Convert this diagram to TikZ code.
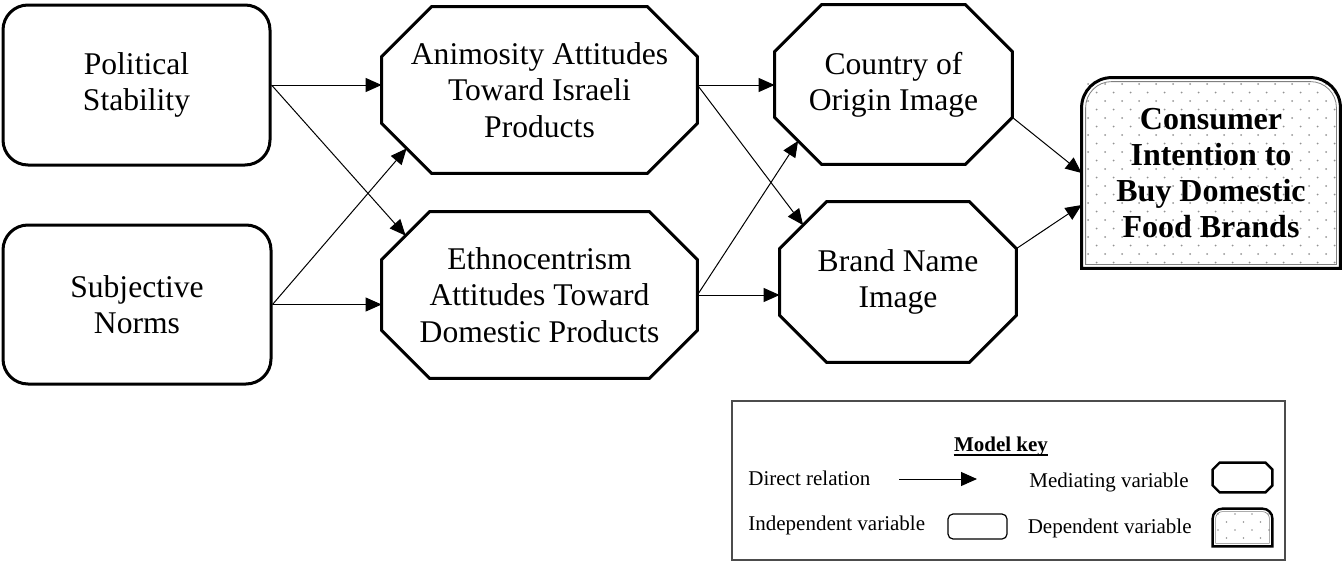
\documentclass[tikz,border=0pt]{standalone}
\usepackage{fontspec}
\setmainfont{Liberation Serif}
\usetikzlibrary{calc,arrows.meta}
\pgfdeclarelayer{background}
\pgfsetlayers{background,main}
\newcommand\mainfs{\fontsize{15.8pt}{18.2pt}\selectfont}
\newcommand\confs{\fontsize{16pt}{18pt}\selectfont\bfseries}
\newcommand\keyfs{\fontsize{10.5pt}{12.6pt}\selectfont}
% octagon drawn round a node: #1 node, #2 chamfer, #3 style
\newcommand\octo[3]{%
  \draw[#3] ($(#1.north west)+(#2,0pt)$) -- ($(#1.north east)+(-#2,0pt)$)
    -- ($(#1.north east)+(0pt,-#2)$) -- ($(#1.south east)+(0pt,#2)$)
    -- ($(#1.south east)+(-#2,0pt)$) -- ($(#1.south west)+(#2,0pt)$)
    -- ($(#1.south west)+(0pt,#2)$) -- ($(#1.north west)+(0pt,-#2)$) -- cycle;}
% box with rounded top corners: #1 node, #2 inset, #3 radius, #4 style
\newcommand\depshape[4]{%
  \draw[#4] ($(#1.south west)+(#2,#2)$) -- ($(#1.north west)+(#2,-#3)$)
    arc[start angle=180,end angle=90,radius=#3-#2]
    -- ($(#1.north east)+(-#3,-#2)$)
    arc[start angle=90,end angle=0,radius=#3-#2]
    -- ($(#1.south east)+(-#2,#2)$) -- cycle;}
\tikzset{
  arr/.style={line width=0.5pt,-{Triangle[length=8pt,width=7pt]}},
  indep/.style={draw,line width=1.5pt,rounded corners=12.5pt,align=center,inner sep=0pt,font=\mainfs},
  medtext/.style={align=center,inner sep=0pt,font=\mainfs},
  octline/.style={line width=1.5pt},
  keytext/.style={inner sep=0pt,font=\keyfs},
  dotstyle/.style={fill=gray!85},
}
\begin{document}
\begin{tikzpicture}[x=0.5pt,y=-0.5pt]
\useasboundingbox (0,0) rectangle (1342,562);

% independent variables
\node[indep,minimum width=133.5pt,minimum height=80pt] (pol) at (136.5,85) {Political\\Stability};
\node[indep,minimum width=134pt,minimum height=79.5pt] (sub) at (137,304.5) {Subjective\\Norms};

% mediating variables
\node[medtext,minimum width=157.5pt,minimum height=83pt] (ani) at (539.5,90) {Animosity Attitudes\\Toward Israeli\\Products};
\node[medtext,minimum width=157.5pt,minimum height=83pt] (eth) at (539.5,295) {Ethnocentrism\\Attitudes Toward\\Domestic Products};
\node[medtext,minimum width=118.5pt,minimum height=79.5pt] (coo) at (893.5,84.5) {Country of\\Origin Image};
\node[medtext,minimum width=118pt,minimum height=80pt] (bni) at (898,282) {Brand Name\\Image};
\octo{ani}{25pt}{octline}
\octo{eth}{24pt}{octline}
\octo{coo}{23.5pt}{octline}
\octo{bni}{23.5pt}{octline}

% dependent variable
\node[align=center,inner sep=0pt,font=\confs,minimum width=129pt,minimum height=95pt] (con) at (1211,173) {Consumer\\Intention to\\Buy Domestic\\Food Brands};
\begin{pgfonlayer}{background}
  \begin{scope}
    \clip (1084,80) rectangle (1338,266);
    \foreach \j in {0,...,22}{
      \pgfmathsetmacro\off{mod(\j,2)*8.5}
      \foreach \i in {0,...,15}{
        \fill[dotstyle] (1088+\off+\i*17,84+\j*8.5) circle (0.5pt);
      }
    }
  \end{scope}
\end{pgfonlayer}
\depshape{con}{0pt}{15pt}{line width=1.5pt}
\depshape{con}{2pt}{15pt}{line width=0.4pt,gray}

% connection points
\coordinate (aniL) at ($(ani.south west)+(12.5pt,12.5pt)$);
\coordinate (ethUL) at ($(eth.north west)+(12pt,-12pt)$);
\coordinate (cooLL) at ($(coo.south west)+(11.75pt,11.75pt)$);
\coordinate (bniUL) at ($(bni.north west)+(11.75pt,-11.75pt)$);
\coordinate (cooR) at ($(coo.south east)+(0pt,23.5pt)$);
\coordinate (bniR) at ($(bni.north east)+(0pt,-23.5pt)$);
\coordinate (conB) at ($(con.west)+(0pt,-16pt)$);

% connectors
\draw[arr] (pol.east) -- (pol.east -| ani.west);
\draw[arr] (pol.east) -- (ethUL);
\draw[arr] (sub.east) -- (aniL);
\draw[arr] (sub.east) -- (sub.east -| eth.west);
\draw[arr] (pol.east -| ani.east) -- (pol.east -| coo.west);
\draw[arr] (pol.east -| ani.east) -- (bniUL);
\draw[arr] (eth.east) -- (cooLL);
\draw[arr] (eth.east) -- (eth.east -| bni.west);
\draw[arr] (cooR) -- (con.west);
\draw[arr] (bniR) -- (conB);

% model key
\node[draw=gray!60!black,line width=1pt,minimum width=276.5pt,minimum height=79.5pt,inner sep=0pt] (key) at (1008.5,480.5) {};
\node[keytext,font=\keyfs\bfseries] (mk) at (1001,446) {Model key};
\draw[line width=1pt] ($(mk.base west)+(0pt,-1.8pt)$) -- ($(mk.base east)+(0pt,-1.8pt)$);
\node[keytext,anchor=west] (kdr) at (748,478) {Direct relation};
\coordinate (ka1) at (899,479);
\coordinate (ka2) at (977,479);
\draw[arr] (ka1) -- (ka2);
\node[keytext,anchor=east] (kmv) at (1189,482) {Mediating variable};
\node[inner sep=0pt,minimum width=29.5pt,minimum height=14.5pt] (km) at (1242.5,477.5) {};
\octo{km}{3.5pt}{line width=1.2pt}
\node[keytext,anchor=west] (kiv) at (748,525) {Independent variable};
\node[draw,line width=0.6pt,rounded corners=2.5pt,inner sep=0pt,minimum width=29.5pt,minimum height=12.5pt] (ki) at (977.5,526.5) {};
\node[keytext,anchor=east] (kdv) at (1192,528) {Dependent variable};
\node[inner sep=0pt,minimum width=29.5pt,minimum height=18.5pt] (kd) at (1242.5,527.5) {};
\begin{pgfonlayer}{background}
  \begin{scope}
    \clip (1215,511) rectangle (1270,544);
    \foreach \j in {0,...,4}{
      \pgfmathsetmacro\off{mod(\j,2)*8.5}
      \foreach \i in {0,...,3}{
        \fill[dotstyle] (1218+\off+\i*17,514+\j*8) circle (0.4pt);
      }
    }
  \end{scope}
\end{pgfonlayer}
\depshape{kd}{0pt}{5pt}{line width=1.2pt}
\depshape{kd}{1.5pt}{5pt}{line width=0.3pt,gray}
\end{tikzpicture}
\end{document}
